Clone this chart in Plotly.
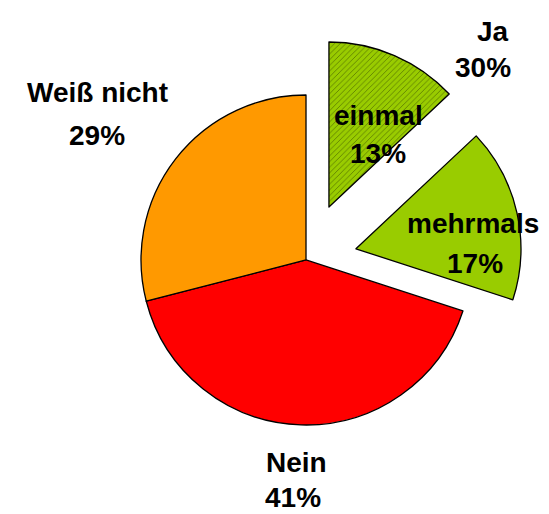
import plotly.graph_objects as go

# Data
labels = ["einmal", "mehrmals", "Nein", "Weiß nicht"]
values = [13, 17, 41, 29]
group_label = "Ja"
colors = ["#99CC00", "#99CC00", "#FF0000", "#FF9900"]
pulls = [0.35, 0.31, 0, 0]
patterns = ["/", "", "", ""]

W, H = 541, 506
OFF = 8  # page body margin

fig = go.Figure(go.Pie(
    labels=labels,
    values=values,
    sort=False,
    direction="clockwise",
    rotation=0,
    pull=pulls,
    textinfo="none",
    marker=dict(
        colors=colors,
        line=dict(color="black", width=1.3),
        pattern=dict(shape=patterns, fgcolor="#5f8000", bgcolor=colors,
                     fillmode="replace", size=4, solidity=0.22),
    ),
    domain=dict(x=[0.1391, 0.9626], y=[0.0618, 0.9422]),
    showlegend=False,
))

font = dict(family="Liberation Sans, Arial, sans-serif", size=28, color="black", weight="bold")

# (text, x_px, y_px) in page pixels
texts = [
    (group_label, 493, 32),
    (f"{values[0] + values[1]}%", 483, 68),
    (labels[0], 378, 115),
    (f"{values[0]}%", 378, 153),
    (labels[1], 473, 223),
    (f"{values[1]}%", 475, 263),
    (labels[3], 97, 92),
    (f"{values[3]}%", 97, 135),
    (labels[2], 296, 462),
    (f"{values[2]}%", 293, 497),
]
for t, x, y in texts:
    fig.add_annotation(text=t, x=(x - OFF) / W, y=1 - (y - OFF) / H, xref="paper", yref="paper",
                       xanchor="center", yanchor="middle", showarrow=False, font=font)

fig.update_layout(
    width=W, height=H,
    margin=dict(l=0, r=0, t=0, b=0),
    paper_bgcolor="white", plot_bgcolor="white",
)

fig.write_html("out.html")
